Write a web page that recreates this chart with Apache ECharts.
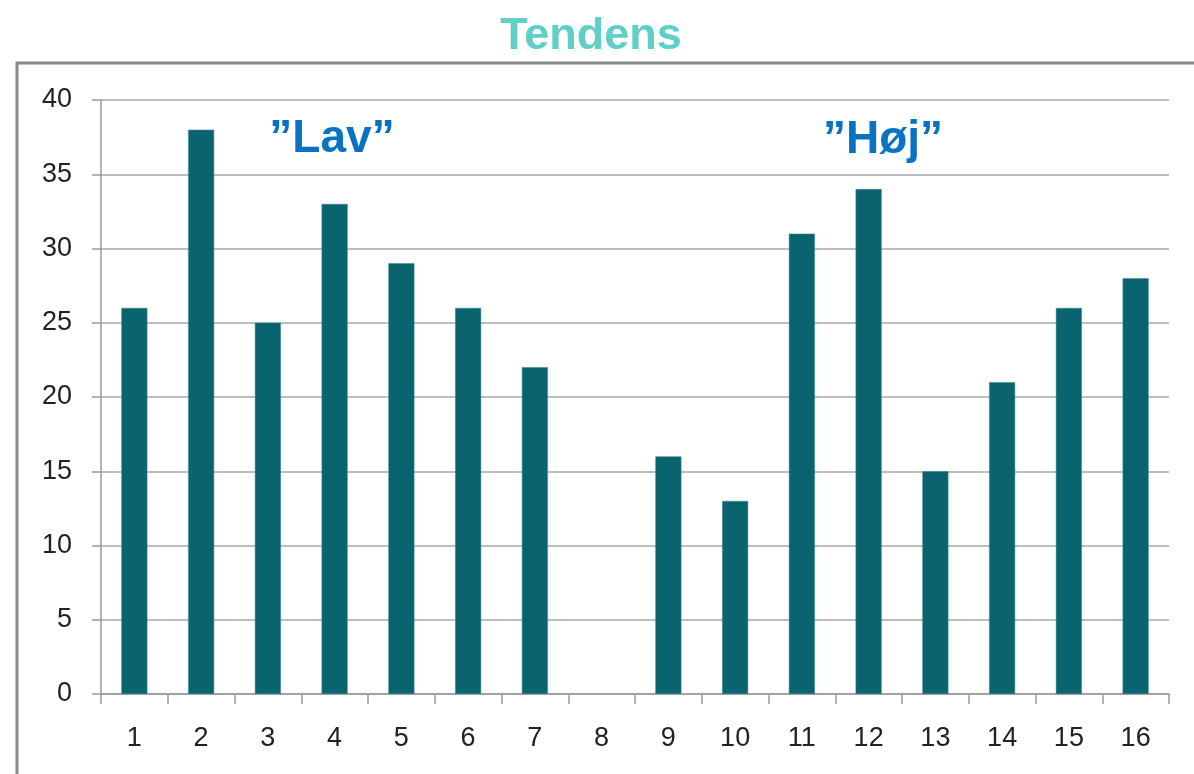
<!DOCTYPE html>
<html>
<head>
<meta charset="utf-8">
<script src="https://cdn.jsdelivr.net/npm/echarts@6/dist/echarts.min.js"></script>
<style>
  html, body { margin: 0; padding: 0; background: #fff; }
  #chart { width: 1194px; height: 774px; }
</style>
</head>
<body>
<div id="chart"></div>
<script>
// data
const categories = ["1", "2", "3", "4", "5", "6", "7", "8", "9", "10", "11", "12", "13", "14", "15", "16"];
const values = [26, 38, 25, 33, 29, 26, 22, null, 16, 13, 31, 34, 15, 21, 26, 28];
const titleText = "Tendens";
const lowText = "\u201DLav\u201D";
const highText = "\u201DH\u00F8j\u201D";

const chart = echarts.init(document.getElementById("chart"));

const option = {
    animation: false,
    backgroundColor: "#ffffff",
    title: {
        text: titleText,
        left: 586,
        textAlign: "center",
        top: 9,
        textStyle: {
            color: "#5fcfc8",
            fontSize: 45,
            fontWeight: "bold",
            fontFamily: "Liberation Sans",
        },
    },
    graphic: [
        {
            type: "rect",
            z: -1,
            shape: { x: 17, y: 63, width: 1200, height: 800 },
            style: { fill: "none", stroke: "#8a8a8a", lineWidth: 3 },
        },
        {
            type: "text",
            x: 332,
            y: 162,
            style: {
                text: lowText,
                fill: "#0a72c2",
                font: "bold 46px 'Liberation Sans'",
                textAlign: "center",
                textVerticalAlign: "bottom",
            },
        },
        {
            type: "text",
            x: 883,
            y: 163,
            style: {
                text: highText,
                fill: "#0a72c2",
                font: "bold 46px 'Liberation Sans'",
                textAlign: "center",
                textVerticalAlign: "bottom",
            },
        },
    ],
    grid: {
        left: 101,
        right: 25,
        top: 100,
        bottom: 80,
    },
    xAxis: {
        type: "category",
        data: categories,
        axisLine: { lineStyle: { color: "#9a9a9a", width: 1.5 } },
        axisTick: { show: true, length: 10, lineStyle: { color: "#9a9a9a", width: 1.5 } },
        axisLabel: {
            color: "#222222",
            fontSize: 27,
            fontFamily: "Liberation Sans",
            margin: 31,
        },
    },
    yAxis: {
        type: "value",
        min: 0,
        max: 40,
        interval: 5,
        axisLine: { show: true, lineStyle: { color: "#9a9a9a", width: 1.5 } },
        axisTick: { show: true, length: 9, lineStyle: { color: "#9a9a9a", width: 1.5 } },
        axisLabel: {
            color: "#222222",
            fontSize: 27,
            fontFamily: "Liberation Sans",
            margin: 29,
        },
        splitLine: { lineStyle: { color: "#a8a8a8", width: 1.5 } },
    },
    series: [
        {
            type: "bar",
            data: values,
            barWidth: 26,
            barGap: "0%",
            itemStyle: {
                color: "#0a6470",
                borderColor: "#3a8690",
                borderWidth: 0.5,
            },
        },
    ],
};

chart.setOption(option);
</script>
</body>
</html>
